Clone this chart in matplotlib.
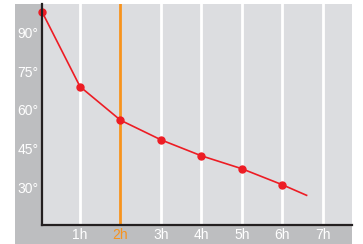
import matplotlib
matplotlib.use("Agg")
import matplotlib.pyplot as plt
from matplotlib.patches import Rectangle

hours = [0.06, 1, 2, 3, 4, 5, 6, 6.6]
temps = [98, 69, 56, 48.4, 42.2, 37.2, 31, 26.9]
marked = list(range(7))
xticks = [1, 2, 3, 4, 5, 6, 7]
xlabels = ["1h", "2h", "3h", "4h", "5h", "6h", "7h"]
yticks = [30, 45, 60, 75, 90]
ylabels = ["30°", "45°", "60°", "75°", "90°"]
highlight = 2

W, H = 363, 244
fig = plt.figure(figsize=(W / 100, H / 100), dpi=100)
fig.patch.set_facecolor("white")
bg = Rectangle((15 / W, 0), (352.3 - 15) / W, (H - 4) / H,
               transform=fig.transFigure, facecolor="#bdbec0",
               edgecolor="none", zorder=-10)
fig.add_artist(bg)

ax = fig.add_axes([42 / W, (H - 224.5) / H, (352.3 - 42) / W, (224.5 - 4) / H])
ax.set_zorder(1)
ax.set_facecolor("#dcdde0")
ax.set_xlim(0.06, 7.73)
ax.set_ylim(15.6, 101)

for t in xticks:
    c = "#f7931e" if t == highlight else "white"
    ax.axvline(t, color=c, lw=2, zorder=1)

ax.plot(hours, temps, color="#ed1c24", lw=1.2, marker="o", markersize=5,
        markevery=marked, zorder=3, clip_on=False)

for s in ["top", "right"]:
    ax.spines[s].set_visible(False)
for s in ["left", "bottom"]:
    ax.spines[s].set_color("#231f20")
    ax.spines[s].set_linewidth(1.6)
    ax.spines[s].set_zorder(4)

ax.set_xticks(xticks)
ax.set_xticklabels(xlabels, fontfamily="Liberation Sans", fontsize=10)
ax.set_yticks(yticks)
ax.set_yticklabels(ylabels, fontfamily="Liberation Sans", fontsize=10)
ax.tick_params(length=0, colors="white", pad=2.5)
for lbl, t in zip(ax.get_xticklabels(), xticks):
    lbl.set_color("#f7931e" if t == highlight else "white")

fig.savefig("out.png", dpi=100)
